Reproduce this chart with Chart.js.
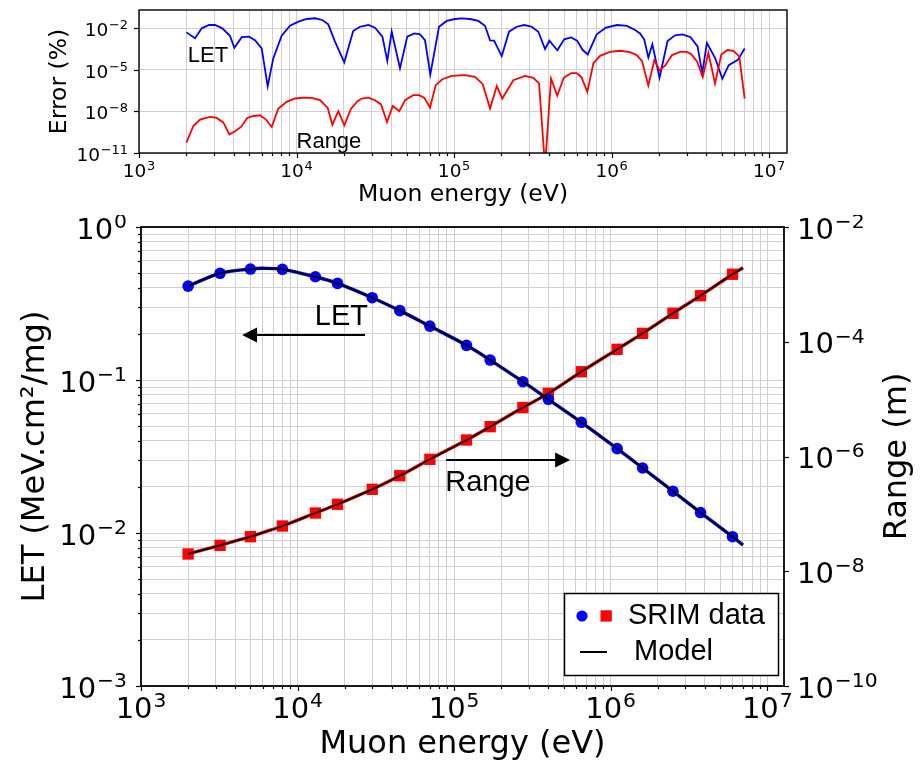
<!DOCTYPE html>
<html><head><meta charset="utf-8">
<script src="https://cdn.jsdelivr.net/npm/chart.js@4.4.1/dist/chart.umd.min.js"></script>
<style>
html,body{margin:0;padding:0;background:#fff;}
#wrap{position:relative;width:920px;height:767px;overflow:hidden;}
canvas{position:absolute;left:0;}
#top{top:0;}
#main{top:215px;}
</style></head><body>
<div id="wrap"><canvas id="top" width="920" height="215"></canvas><canvas id="main" width="920" height="552"></canvas></div>
<script>
// ---------- data ----------
const srimEnergy = [2000,3200,5000,8000,13000,18000,30000,45000,70000,120000,170000,275000,400000,650000,1100000,1600000,2500000,3750000,6000000];
const srimLET = [0.411,0.498,0.531,0.529,0.473,0.428,0.345,0.284,0.225,0.1685,0.135,0.0975,0.0748,0.0529,0.0356,0.0266,0.01875,0.0136,0.00946];
const srimRange = [2.0e-8,2.83e-8,4.0e-8,6.15e-8,1.035e-7,1.47e-7,2.68e-7,4.62e-7,8.93e-7,1.94e-6,3.31e-6,7.14e-6,1.26e-5,3.0e-5,7.38e-5,1.40e-4,3.13e-4,6.35e-4,1.50e-3];

const modelEnergy = [2000,3200,5000,6000,8000,13000,18000,30000,45000,70000,120000,170000,275000,400000,650000,1100000,1600000,2500000,3750000,6000000,7000000];
const modelLET = [0.411,0.498,0.531,0.537,0.529,0.473,0.428,0.345,0.284,0.225,0.1685,0.135,0.0975,0.0748,0.0529,0.0356,0.0266,0.01875,0.0136,0.00946,0.00835];
const modelRange = [2.0e-8,2.83e-8,4.0e-8,4.72e-8,6.15e-8,1.035e-7,1.47e-7,2.68e-7,4.62e-7,8.93e-7,1.94e-6,3.31e-6,7.14e-6,1.26e-5,3.0e-5,7.38e-5,1.40e-4,3.13e-4,6.35e-4,1.50e-3,1.95e-3];

const errLETEnergy = [2000,2270,2500,2780,3040,3380,3780,4030,4490,4990,5450,6010,6560,7120,8050,9090,10300,11600,13100,14600,15900,17500,20100,22900,25300,28600,31500,35100,37700,40200,45400,50500,56000,60800,65400,70700,80300,89900,101500,111900,126300,142700,157300,169300,179500,200900,223500,250100,279500,311400,342900,378300,402900,452900,500900,553400,604000,656400,706300,805400,922600,1084000,1254000,1410000,1517000,1613000,1713000,1816000,2017000,2268000,2531000,2824000,3175000,3516000,3766000,4029000,4541000,5052000,5548000,6339000,7000000];
const errLET = [5.1e-3,1.9e-3,1.0e-2,1.73e-2,1.73e-2,1.0e-2,2.9e-3,3.9e-4,2.3e-3,2.5e-3,1.4e-3,3.6e-4,6.7e-7,6.7e-5,2.9e-3,1.54e-2,3.0e-2,4.7e-2,5.3e-2,4.0e-2,1.95e-2,1.2e-3,3.5e-5,6.4e-3,1.3e-2,1.73e-2,1.1e-2,2.5e-3,4.5e-5,5.7e-3,1.3e-5,2.5e-3,4.3e-3,3.7e-3,1.4e-3,4.7e-6,1.3e-2,3.4e-2,4.7e-2,5.3e-2,4.7e-2,3.4e-2,1.54e-2,1.35e-3,1.3e-3,9.9e-5,5.7e-3,1.3e-2,1.73e-2,1.3e-2,5.7e-3,3.2e-4,1.27e-3,2.6e-4,1.6e-3,2.2e-3,1.3e-3,2.7e-4,1.3e-4,3.7e-3,1.14e-2,1.73e-2,1.5e-2,7.5e-3,4.3e-3,1.55e-3,7.7e-5,7.0e-4,2.7e-6,1.2e-3,3.1e-3,3.7e-3,2.3e-3,5.0e-4,5.8e-6,8.6e-4,7.3e-5,2.3e-6,2.2e-5,5.3e-5,3.5e-4];

const errRangeEnergy = [2000,2212,2440,2824,3113,3429,3744,4070,4443,4871,5317,5865,6375,6959,7663,8666,9784,11050,12490,14100,15780,16880,18430,20120,22180,24400,25940,28570,31510,34410,37550,40820,44950,48870,55150,59950,64770,70390,76530,84300,96700,117400,135900,152100,169300,186700,202600,237900,282400,318800,346600,378300,413000,452200,497300,553400,599600,643200,702200,766300,845300,978400,1132000,1311000,1445000,1562000,1713000,1867000,2023000,2186000,2422000,2722000,3003000,3197000,3491000,3793000,4118000,4541000,4978000,5452000,5934000,6469000,7000000];
const errRange = [5.6e-11,8.9e-10,2.6e-9,4.0e-9,3.4e-9,1.6e-9,2.2e-10,3.7e-10,7.6e-10,3.4e-9,4.7e-9,5.3e-9,2.7e-9,7.6e-10,1.6e-8,4.9e-8,8.6e-8,1.0e-7,9.5e-8,6.5e-8,1.8e-8,1.1e-9,1.04e-8,1.0e-9,1.6e-8,5.5e-8,8.6e-8,1.0e-7,6.5e-8,3.2e-8,1.75e-9,2.5e-8,1.04e-8,6.5e-8,1.5e-7,1.5e-7,9.5e-8,1.9e-8,7.9e-7,2.1e-6,3.7e-6,4.2e-6,3.1e-6,9.3e-7,1.6e-8,6.7e-7,8.6e-8,1.8e-6,3.7e-6,2.7e-6,1.05e-6,1e-12,2.4e-6,1.4e-7,2.7e-6,5.8e-6,5.8e-6,3.1e-6,2.6e-7,2.9e-5,1.04e-4,2.0e-4,2.4e-4,1.9e-4,1.17e-4,4.3e-5,7.5e-7,4.8e-5,9.1e-6,2.0e-5,1.17e-4,2.0e-4,2.0e-4,1.4e-4,4.0e-5,3.0e-6,1.7e-4,1.05e-6,1.3e-4,2.7e-4,2.35e-4,9.4e-5,8.3e-8];

// tick definitions
const xDecades = [3,4,5,6];          // minor ticks 1..9 x 10^n, plus 10^7
const xLastDecade = 7;
const letDecades = [-3,-2,-1];       // plus 10^0
const letLastDecade = 0;
const rangeTickExps = [-10,-8,-6,-4,-2];
const errTickExps = [-11,-8,-5,-2];
const minorMults = [1,2,3,4,5,6,7,8,9];

// ---------- helpers ----------
function isDecade(v){ const e=Math.round(Math.log10(v)); return Math.abs(v/Math.pow(10,e)-1)<1e-6; }
function fullDecadeTicks(decs,last){ const t=[]; decs.forEach(d=>minorMults.forEach(m=>t.push(m*Math.pow(10,d)))); t.push(Math.pow(10,last)); return t; }
function setTicks(list){ return s => { s.ticks = list.map(v=>({value:v, major:isDecade(v)})); }; }
function pts(xs,ys){ return xs.map((x,i)=>({x:x,y:ys[i]})); }

const GRID = '#d0d0d0';
const TICKFONT = 'DejaVu Sans';
const ANNFONT = "'Liberation Sans', Arial, sans-serif";

// tick label "10^e" drawn as real text with a raised exponent; yc = centre of the "10" digits
function powLabel(ctx, v, x, yc, F, align){
  const e=Math.round(Math.log10(v));
  const base='10', exp=String(e).replace('-','\u2212');
  const Fs=F*0.7;
  ctx.font=F+'px '+TICKFONT; const wb=ctx.measureText(base).width;
  ctx.font=Fs+'px '+TICKFONT; const we=ctx.measureText(exp).width;
  const tot=wb+we+F*0.03;
  const x0 = align==='center' ? x-tot/2 : align==='right' ? x-tot : x;
  const by = yc+0.3645*F;
  ctx.textAlign='left'; ctx.textBaseline='alphabetic';
  ctx.font=F+'px '+TICKFONT; ctx.fillText(base,x0,by);
  ctx.font=Fs+'px '+TICKFONT; ctx.fillText(exp,x0+wb+F*0.03,by-0.37*F);
}

function drawFrameTicks(chart, specs, lw){
  const a=chart.chartArea, ctx=chart.ctx;
  ctx.save();
  ctx.strokeStyle='#000'; ctx.fillStyle='#000'; ctx.lineWidth=1.2;
  specs.forEach(sp=>{
    const s=chart.scales[sp.id];
    s.ticks.forEach(t=>{
      const p=Math.round(s.getPixelForValue(t.value))+0.5;
      const L=t.major?sp.major:sp.minor;
      if(L){
        ctx.beginPath();
        if(sp.side==='bottom'){ctx.moveTo(p,a.bottom);ctx.lineTo(p,a.bottom+L);}
        else if(sp.side==='left'){ctx.moveTo(a.left,p);ctx.lineTo(a.left-L,p);}
        else {ctx.moveTo(a.right,p);ctx.lineTo(a.right+L,p);}
        ctx.stroke();
      }
      if(t.major){
        const q=s.getPixelForValue(t.value);
        if(sp.side==='bottom') powLabel(ctx,t.value,q,a.bottom+sp.gap,sp.font,'center');
        else if(sp.side==='left') powLabel(ctx,t.value,a.left-sp.gap,q+1,sp.font,'right');
        else powLabel(ctx,t.value,a.right+sp.gap,q+1,sp.font,'left');
      }
    });
  });
  ctx.lineWidth=lw;
  ctx.strokeRect(a.left,a.top,a.right-a.left,a.bottom-a.top);
  ctx.restore();
}

function arrow(ctx,x1,y,x2){
  const dir=Math.sign(x2-x1), hl=15, hw=7.5;
  ctx.beginPath(); ctx.moveTo(x1,y); ctx.lineTo(x2-dir*hl,y); ctx.lineWidth=2.2; ctx.stroke();
  ctx.beginPath(); ctx.moveTo(x2,y); ctx.lineTo(x2-dir*hl,y-hw); ctx.lineTo(x2-dir*hl,y+hw); ctx.closePath(); ctx.fill();
}

const noPad = s => { s.paddingTop=0; s.paddingBottom=0; s.paddingLeft=0; s.paddingRight=0; };

// ---------- top chart (errors) ----------
const topDecor = {
  id:'topDecor',
  afterDraw(chart){
    drawFrameTicks(chart,[
      {id:'x',side:'bottom',major:5,minor:3,gap:17,font:18.5},
      {id:'y',side:'left',major:5,minor:0,gap:11,font:18.5}],1.4);
    const ctx=chart.ctx, xs=chart.scales.x, ys=chart.scales.y;
    ctx.save(); ctx.fillStyle='#000'; ctx.font='22px '+ANNFONT; ctx.textAlign='left'; ctx.textBaseline='middle';
    ctx.fillText('LET', xs.getPixelForValue(2040), ys.getPixelForValue(9.4e-5));
    ctx.fillText('Range', xs.getPixelForValue(10000), ys.getPixelForValue(6e-11));
    ctx.restore();
  }
};

new Chart(document.getElementById('top'), {
  type:'scatter',
  data:{datasets:[
    {label:'Range', data:pts(errRangeEnergy,errRange), showLine:true, borderColor:'#ff0000', borderWidth:1.8, pointRadius:0, tension:0},
    {label:'LET', data:pts(errLETEnergy,errLET), showLine:true, borderColor:'#0000ff', borderWidth:1.8, pointRadius:0, tension:0}
  ]},
  options:{
    responsive:false, animation:false, devicePixelRatio:1,
    layout:{padding:{left:0,right:133,top:10,bottom:0}},
    plugins:{legend:{display:false},tooltip:{enabled:false}},
    scales:{
      x:{type:'logarithmic',position:'bottom',min:1000,max:1.3e7,
         afterBuildTicks:setTicks(fullDecadeTicks(xDecades,xLastDecade)),
         afterFit:s=>{s.height=62; noPad(s);},
         grid:{color:GRID,lineWidth:1,drawTicks:false},border:{display:false},
         ticks:{display:false,autoSkip:false},
         title:{display:true,text:'Muon energy (eV)',color:'#000',font:{family:TICKFONT,size:23.5},padding:{top:0,bottom:6}}},
      y:{type:'logarithmic',position:'left',min:1e-11,max:0.21,
         afterBuildTicks:setTicks(errTickExps.map(e=>Math.pow(10,e))),
         afterFit:s=>{s.width=139; noPad(s);},
         grid:{color:GRID,lineWidth:1,drawTicks:false},border:{display:false},
         ticks:{display:false,autoSkip:false},
         title:{display:true,text:'Error (%)',color:'#000',font:{family:TICKFONT,size:23.5},padding:{top:46,bottom:0}}}
    }
  },
  plugins:[topDecor]
});

// ---------- main chart ----------
const mainDecor = {
  id:'mainDecor',
  afterDraw(chart){
    drawFrameTicks(chart,[
      {id:'x',side:'bottom',major:5,minor:3,gap:21,font:29},
      {id:'yL',side:'left',major:5,minor:3,gap:14,font:29},
      {id:'yR',side:'right',major:5,minor:0,gap:13,font:29}],1.8);
    const ctx=chart.ctx, a=chart.chartArea, xs=chart.scales.x, yl=chart.scales.yL;
    ctx.save();
    ctx.fillStyle='#000'; ctx.strokeStyle='#000';
    ctx.font='29px '+ANNFONT; ctx.textAlign='left'; ctx.textBaseline='middle';
    ctx.fillText('LET', xs.getPixelForValue(12900), yl.getPixelForValue(0.258));
    arrow(ctx, xs.getPixelForValue(27000), Math.round(yl.getPixelForValue(0.197)), xs.getPixelForValue(4420));
    ctx.fillText('Range', xs.getPixelForValue(87700), yl.getPixelForValue(0.0212));
    arrow(ctx, xs.getPixelForValue(88900), Math.round(yl.getPixelForValue(0.030)), xs.getPixelForValue(551000));
    // legend
    const bx=a.right-220, by=a.bottom-93, bw=214, bh=82;
    ctx.fillStyle='#fff'; ctx.fillRect(bx,by,bw,bh);
    ctx.lineWidth=1.5; ctx.strokeRect(bx+0.5,by+0.5,bw,bh);
    ctx.fillStyle='#0000ff'; ctx.beginPath(); ctx.arc(bx+18,by+23,5.6,0,Math.PI*2); ctx.fill();
    ctx.fillStyle='#ff0000'; ctx.fillRect(bx+36.5,by+17.3,11.3,11.3);
    ctx.fillStyle='#000'; ctx.font='29px '+ANNFONT; ctx.textAlign='left'; ctx.textBaseline='middle';
    ctx.fillText('SRIM data', bx+64, by+23);
    ctx.lineWidth=2; ctx.beginPath(); ctx.moveTo(bx+16,by+59); ctx.lineTo(bx+43,by+59); ctx.stroke();
    ctx.fillText('Model', bx+70, by+59);
    // right title
    ctx.font='32px '+TICKFONT; ctx.textAlign='center'; ctx.textBaseline='middle';
    ctx.translate(a.right+114,(a.top+a.bottom)/2); ctx.rotate(-Math.PI/2);
    ctx.fillText('Range (m)',0,0);
    ctx.restore();
  }
};

new Chart(document.getElementById('main'), {
  type:'scatter',
  data:{datasets:[
    {label:'Model LET', data:pts(modelEnergy,modelLET), yAxisID:'yL', showLine:true, borderColor:'#000', borderWidth:1.8, pointRadius:0, tension:0.35},
    {label:'Model Range', data:pts(modelEnergy,modelRange), yAxisID:'yR', showLine:true, borderColor:'#000', borderWidth:1.8, pointRadius:0, tension:0.35},
    {label:'SRIM LET', data:pts(srimEnergy,srimLET), yAxisID:'yL', showLine:false, pointStyle:'circle', pointRadius:5.8, backgroundColor:'#0000ff', borderWidth:0},
    {label:'SRIM Range', data:pts(srimEnergy,srimRange), yAxisID:'yR', showLine:false, pointStyle:'rect', pointRadius:8, backgroundColor:'#ff0000', borderWidth:0},
    {label:'LET line', data:pts(modelEnergy,modelLET), yAxisID:'yL', showLine:true, borderColor:'#0000ff', borderWidth:3.4, pointRadius:0, tension:0.35},
    {label:'Range line', data:pts(modelEnergy,modelRange), yAxisID:'yR', showLine:true, borderColor:'#ff0000', borderWidth:3.4, pointRadius:0, tension:0.35}
  ]},
  options:{
    responsive:false, animation:false, devicePixelRatio:1,
    layout:{padding:{left:0,right:0,top:12,bottom:0}},
    plugins:{legend:{display:false},tooltip:{enabled:false}},
    scales:{
      x:{type:'logarithmic',position:'bottom',min:1000,max:1.28e7,
         afterBuildTicks:setTicks(fullDecadeTicks(xDecades,xLastDecade)),
         afterFit:s=>{s.height=81; noPad(s);},
         grid:{color:GRID,lineWidth:1,drawTicks:false},border:{display:false},
         ticks:{display:false,autoSkip:false},
         title:{display:true,text:'Muon energy (eV)',color:'#000',font:{family:TICKFONT,size:32},padding:{top:0,bottom:3}}},
      yL:{type:'logarithmic',position:'left',min:1e-3,max:1,
         afterBuildTicks:setTicks(fullDecadeTicks(letDecades,letLastDecade)),
         afterFit:s=>{s.width=141; noPad(s);},
         grid:{color:GRID,lineWidth:1,drawTicks:false},border:{display:false},
         ticks:{display:false,autoSkip:false},
         title:{display:true,text:'LET (MeV.cm\u00B2/mg)',color:'#000',font:{family:TICKFONT,size:32},padding:{top:16,bottom:0}}},
      yR:{type:'logarithmic',position:'right',min:1e-10,max:1e-2,
         afterBuildTicks:setTicks(rangeTickExps.map(e=>Math.pow(10,e))),
         afterFit:s=>{s.width=136; noPad(s);},
         grid:{display:false,drawTicks:false},border:{display:false},
         ticks:{display:false,autoSkip:false}}
    }
  },
  plugins:[mainDecor]
});
</script>
</body></html>
